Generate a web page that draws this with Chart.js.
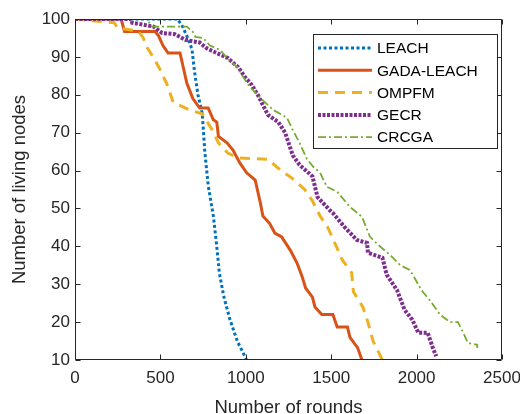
<!DOCTYPE html>
<html>
<head>
<meta charset="utf-8">
<script src="https://cdn.jsdelivr.net/npm/chart.js@4.4.0/dist/chart.umd.min.js"></script>
<style>
  html, body { margin: 0; padding: 0; background: #fff; }
  canvas { display: block; }
</style>
</head>
<body>
<canvas id="lifeChart" width="520" height="414"></canvas>
<script>
// (rounds vs. living nodes)
const leachX = [0, 600, 630, 660, 685, 700, 720, 745, 760, 780, 810, 830, 845, 870, 905, 950, 1005];
const leachY = [100, 100, 98, 95, 92, 86, 80, 75, 65, 56, 48, 40, 33, 27, 21, 15, 10];

const gadaX = [0, 270, 290, 470, 490, 515, 545, 615, 630, 655, 690, 730, 780, 810, 830, 840, 890, 925, 965, 1005, 1055, 1085, 1100, 1140, 1170, 1210, 1260, 1300, 1330, 1350, 1390, 1405, 1445, 1510, 1535, 1595, 1610, 1655, 1680];
const gadaY = [100, 100, 96.7, 96.7, 95.5, 93, 91, 91, 88, 83, 79, 76.5, 76.5, 73.4, 72.8, 69, 67.3, 65.4, 62, 59.4, 57.5, 51.5, 48, 46, 43.5, 42.5, 39, 35.6, 32, 29, 26.6, 24, 22, 22, 18.7, 18.7, 16, 13.2, 10];

const ompX = [0, 230, 250, 370, 400, 420, 450, 470, 500, 540, 575, 670, 745, 800, 840, 895, 960, 1130, 1200, 1270, 1345, 1390, 1435, 1480, 1520, 1565, 1620, 1630, 1685, 1715, 1745, 1800];
const ompY = [100, 99, 97.6, 96.8, 95, 92.6, 90.5, 89, 86.5, 82.6, 78, 76, 75, 71, 67.3, 64.6, 63.3, 63, 60.2, 58, 55, 52, 48, 45, 41, 36.4, 33, 28, 24, 20, 15, 10];

const gecrX = [0, 330, 335, 460, 510, 585, 645, 730, 770, 830, 895, 955, 995, 1035, 1070, 1100, 1130, 1170, 1190, 1230, 1275, 1315, 1390, 1420, 1490, 1510, 1580, 1595, 1650, 1710, 1715, 1800, 1825, 1885, 1930, 1975, 2010, 2065, 2095, 2115];
const gecrY = [100, 100, 99, 98, 96.3, 96, 94.5, 93.8, 92.3, 91, 89.7, 87.3, 84.7, 82.6, 80, 77.3, 74.7, 73.4, 72.8, 70, 64, 61.5, 58.5, 53, 49.6, 48.8, 45, 44.3, 41.7, 40.9, 38.3, 37, 32.5, 28.5, 23.2, 20.6, 17.2, 17.2, 13.2, 11];

const crcX = [0, 420, 450, 655, 690, 705, 750, 790, 850, 890, 950, 985, 1025, 1085, 1160, 1240, 1275, 1315, 1358, 1395, 1435, 1475, 1535, 1610, 1680, 1727, 1775, 1845, 1905, 1960, 1990, 2030, 2075, 2137, 2195, 2242, 2275, 2300, 2355, 2355];
const crcY = [100, 100, 98, 98, 96.6, 95.3, 95, 93, 91.8, 89.7, 87.3, 84.7, 82, 79.2, 76, 74, 70.7, 67.3, 63, 61, 59.4, 55.7, 54.4, 50.4, 47.8, 42.5, 40.4, 37.7, 35, 33.8, 31.5, 28.3, 25.9, 22, 20, 20, 17, 14.5, 14, 13.2];

const seriesNames = ['LEACH', 'GADA-LEACH', 'OMPFM', 'GECR', 'CRCGA'];
const xTicks = [0, 500, 1000, 1500, 2000, 2500];
const yTicks = [10, 20, 30, 40, 50, 60, 70, 80, 90, 100];

const FONT = "'Liberation Sans', Arial, Helvetica, sans-serif";
const AXIS_COLOR = '#262626';

function toPoints(xs, ys) {
  return xs.map((x, i) => ({ x: x, y: ys[i] }));
}

const styles = [
  { color: '#0072BD', width: 3, dash: [3, 2.5] },
  { color: '#D95319', width: 3, dash: [] },
  { color: '#EDB120', width: 3, dash: [10, 7] },
  { color: '#7E2F8E', width: 4, dash: [3, 1.5] },
  { color: '#77AC30', width: 1.8, dash: [8, 3, 2, 3] }
];
const allX = [leachX, gadaX, ompX, gecrX, crcX];
const allY = [leachY, gadaY, ompY, gecrY, crcY];

const datasets = seriesNames.map((name, i) => ({
  label: name,
  data: toPoints(allX[i], allY[i]),
  borderColor: styles[i].color,
  backgroundColor: styles[i].color,
  borderWidth: styles[i].width,
  borderDash: styles[i].dash,
  pointRadius: 0,
  tension: 0,
  fill: false,
  order: seriesNames.length - i   // later series on top, like matlab
}));

// box around the axes + inward ticks on all sides
const framePlugin = {
  id: 'frame',
  afterDatasetsDraw(chart) {
    const { ctx, chartArea: a, scales } = chart;
    const L = Math.round(a.left) + 0.5, R = Math.round(a.right) - 0.5;
    const T = Math.round(a.top) + 0.5, B = Math.round(a.bottom) - 0.5;
    const len = 5;
    ctx.save();
    ctx.strokeStyle = AXIS_COLOR;
    ctx.lineWidth = 1;
    ctx.beginPath();
    ctx.rect(L, T, R - L, B - T);
    xTicks.forEach(v => {
      const px = Math.round(scales.x.getPixelForValue(v)) + 0.5;
      ctx.moveTo(px, B); ctx.lineTo(px, B - len);
      ctx.moveTo(px, T); ctx.lineTo(px, T + len);
    });
    yTicks.forEach(v => {
      const py = Math.round(scales.y.getPixelForValue(v)) + 0.5;
      ctx.moveTo(L, py); ctx.lineTo(L + len, py);
      ctx.moveTo(R, py); ctx.lineTo(R - len, py);
    });
    ctx.stroke();
    ctx.restore();
  }
};

// legend box in the upper right corner of the axes
const boxLegend = {
  id: 'boxLegend',
  afterDraw(chart) {
    const { ctx, chartArea: a } = chart;
    const w = 184, h = 114;
    const x0 = a.right - 5 - w, y0 = a.top + 15;
    ctx.save();
    ctx.fillStyle = '#fff';
    ctx.fillRect(x0, y0, w, h);
    ctx.strokeStyle = AXIS_COLOR;
    ctx.lineWidth = 1;
    ctx.strokeRect(Math.round(x0) + 0.5, Math.round(y0) + 0.5, w, h);
    ctx.font = '15.5px ' + FONT;
    ctx.textBaseline = 'middle';
    chart.data.datasets.forEach((ds, i) => {
      const y = y0 + 14 + i * 22.3;
      ctx.strokeStyle = ds.borderColor;
      ctx.lineWidth = ds.borderWidth;
      ctx.setLineDash(ds.borderDash);
      ctx.beginPath();
      ctx.moveTo(x0 + 5, y);
      ctx.lineTo(x0 + 59, y);
      ctx.stroke();
      ctx.setLineDash([]);
      ctx.fillStyle = '#000';
      ctx.fillText(ds.label, x0 + 64, y + 1);
    });
    ctx.restore();
  }
};

new Chart(document.getElementById('lifeChart'), {
  type: 'line',
  data: { datasets: datasets },
  options: {
    responsive: false,
    animation: false,
    layout: { padding: { left: 0, right: 18, top: 19, bottom: 0 } },
    plugins: {
      legend: { display: false },
      tooltip: { enabled: false }
    },
    scales: {
      x: {
        type: 'linear',
        min: 0,
        max: 2500,
        afterFit: s => { s.height = 54; s.paddingLeft = 0; s.paddingRight = 0; },
        afterBuildTicks: s => { s.ticks = xTicks.map(v => ({ value: v })); },
        grid: { display: false, drawTicks: false },
        border: { display: false },
        ticks: {
          color: AXIS_COLOR, font: { family: FONT, size: 17 }, padding: 8, maxRotation: 0,
          callback: v => String(v)
        },
        title: { display: true, text: 'Number of rounds', color: AXIS_COLOR, font: { family: FONT, size: 18.5 }, padding: { top: 0, bottom: -5 } }
      },
      y: {
        type: 'linear',
        min: 10,
        max: 100,
        afterFit: s => { s.width = 75; s.paddingTop = 0; s.paddingBottom = 0; },
        afterBuildTicks: s => { s.ticks = yTicks.map(v => ({ value: v })); },
        grid: { display: false, drawTicks: false },
        border: { display: false },
        ticks: { color: AXIS_COLOR, font: { family: FONT, size: 17 }, padding: 5, callback: v => String(v) },
        title: { display: true, text: 'Number of living nodes', color: AXIS_COLOR, font: { family: FONT, size: 18.5 }, padding: { top: 9, bottom: 0 } }
      }
    }
  },
  plugins: [framePlugin, boxLegend]
});
</script>
</body>
</html>
